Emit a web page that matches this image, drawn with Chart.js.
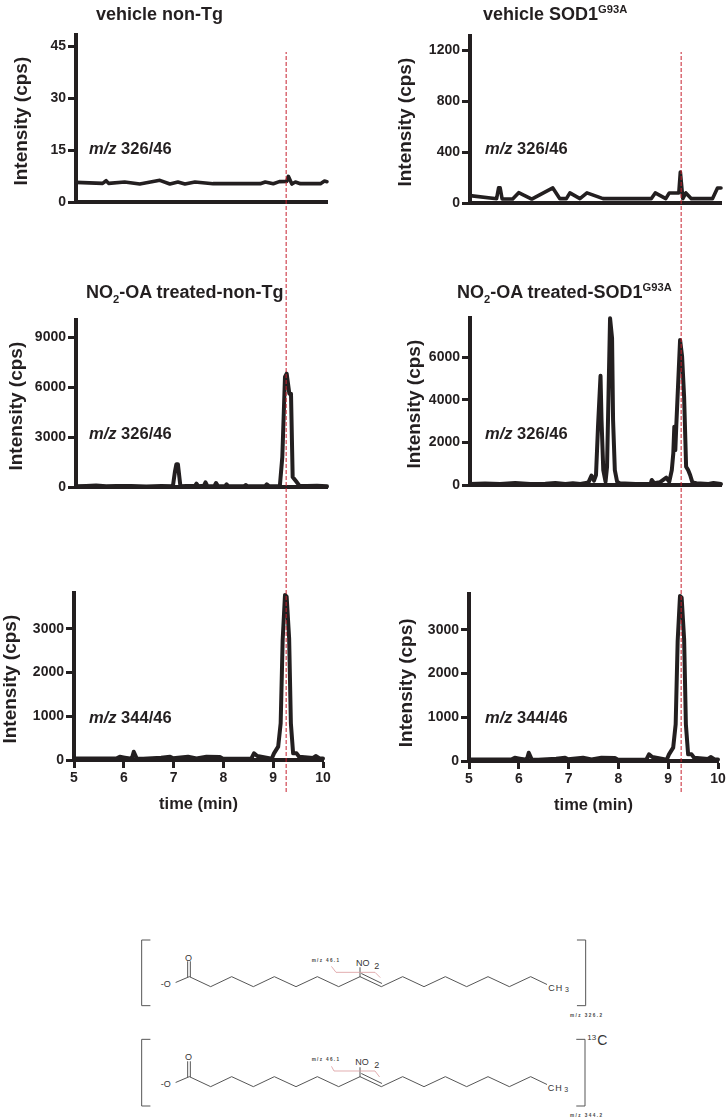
<!DOCTYPE html>
<html><head><meta charset="utf-8">
<script src="https://cdn.jsdelivr.net/npm/chart.js@4"></script>
<style>
html,body{margin:0;padding:0;background:#fff;overflow:hidden}
body{position:relative;width:728px;height:1119px;font-family:"Liberation Sans",Arial,sans-serif;color:#231f20}
canvas{position:absolute}
.t{position:absolute;white-space:nowrap;font-weight:bold;line-height:20px}
.t sub,.t sup{font-size:62%;line-height:0}
#mol{position:absolute;left:130px;top:925px;opacity:.99}
</style></head><body>
<script>
// ---- data ----
const timeTicks = [5,6,7,8,9,10];
const retentionTime = [9.26];

const ticks1 = [0,15,30,45];
const time1 = [5.0,5.53,5.6,5.65,5.97,6.27,6.67,6.87,7.03,7.17,7.37,7.73,8.67,8.77,8.93,9.05,9.2,9.23,9.3,9.37,9.47,9.87,9.95,10.0];
const cps1  = [5.67,5.38,6.15,5.38,5.77,5.19,6.25,5.19,5.77,5.19,5.77,5.29,5.29,5.77,5.29,5.87,5.96,7.4,5.19,5.77,5.29,5.29,6.06,5.87];

const ticks2 = [0,400,800,1200];
const time2 = [5,5.53,5.57,5.6,5.64,5.85,5.97,6.23,6.65,6.79,6.92,6.99,7.19,7.33,7.65,8.61,8.69,8.9,8.97,9.16,9.19,9.24,9.3,9.41,9.83,9.93,10];
const cps2  = [58,34,120,120,31,31,81,31,118,34,34,79,34,79,34,34,79,34,79,79,243,34,79,34,34,118,118];

const ticks3 = [0,3000,6000,9000];
const time3 = [5,5.2,5.4,5.6,5.8,6.1,6.4,6.7,6.93,6.97,7.0,7.03,7.08,7.2,7.37,7.4,7.44,7.55,7.58,7.62,7.76,7.79,7.83,7.97,8.0,8.04,8.35,8.38,8.42,8.77,8.8,8.85,9.06,9.11,9.163,9.197,9.25,9.283,9.316,9.38,9.45,9.6,9.8,10];
const cps3  = [40,60,85,40,55,60,30,55,40,900,1370,1370,40,60,60,200,40,80,280,40,60,240,40,50,160,40,50,120,40,60,160,40,40,1800,6600,6800,5600,5600,600,360,80,60,70,40];

const ticks4 = [0,2000,4000,6000];
const time4 = [5,5.3,5.6,5.9,6.2,6.5,6.7,6.9,7.05,7.2,7.36,7.42,7.47,7.51,7.55,7.6,7.62,7.655,7.7,7.73,7.76,7.79,7.83,7.85,7.885,7.93,7.98,8.3,8.6,8.62,8.67,8.78,8.91,8.97,9.02,9.05,9.07,9.09,9.11,9.185,9.225,9.265,9.305,9.345,9.385,9.43,9.51,9.75,9.85,10];
const cps4  = [50,70,45,90,50,60,90,50,80,50,125,438,203,470,2740,5130,3050,700,156,860,4300,7825,6890,3050,700,156,80,50,60,235,80,125,345,156,700,1490,2740,1640,2820,6810,6030,4150,860,700,470,125,80,50,90,50];

const ticks5 = [0,1000,2000,3000];
const time5 = [5,5.85,5.92,6.02,6.16,6.2,6.26,6.39,6.75,6.93,6.99,7.29,7.46,7.66,7.93,7.99,8.56,8.614,8.68,8.97,9.016,9.1,9.15,9.19,9.237,9.27,9.32,9.355,9.4,9.47,9.52,9.8,9.86,9.93,10];
const cps5  = [35,35,75,55,30,190,35,30,50,76,40,76,35,76,70,30,30,152,91,30,152,305,840,2745,3775,3736,2783,840,152,152,76,45,91,35,35];

const ticks6 = [0,1000,2000,3000];
const time6 = [5,5.85,5.92,6.02,6.16,6.2,6.26,6.39,6.75,6.93,6.99,7.29,7.46,7.66,7.93,7.99,8.56,8.614,8.68,8.97,9.016,9.1,9.15,9.19,9.237,9.27,9.32,9.355,9.4,9.47,9.52,9.8,9.86,9.93,10];
const cps6  = [35,35,75,55,30,190,35,30,50,76,40,76,35,76,70,30,30,152,91,30,152,305,840,2745,3775,3736,2783,840,152,152,76,45,91,35,35];

const yTitle = 'Intensity (cps)';
const xTitle = 'time (min)';

// ---- layout ----
const INK = '#231f20';
const F = '"Liberation Sans", Arial, sans-serif';
const panels = [
 {t:time1,v:cps1,ticks:ticks1,ymax:48.2, ax:76, end:327,top:35, bot:202,gap:55,pad:' ', xl:false,lw:3.6},
 {t:time2,v:cps2,ticks:ticks2,ymax:1310, ax:470,end:721,top:36, bot:203,gap:65,pad:' ', xl:false,lw:3.6},
 {t:time3,v:cps3,ticks:ticks3,ymax:10020,ax:76, end:327,top:320,bot:487,gap:60,pad:' ', xl:false,lw:4},
 {t:time4,v:cps4,ticks:ticks4,ymax:7840, ax:470,end:721,top:318,bot:485,gap:56,pad:' ', xl:false,lw:4},
 {t:time5,v:cps5,ticks:ticks5,ymax:3820, ax:74, end:323,top:593,bot:760,gap:64,pad:' ', xl:true,lw:4},
 {t:time6,v:cps6,ticks:ticks6,ymax:3820, ax:469,end:718,top:594,bot:761,gap:63,pad:'  ',xl:true,lw:4},
];

function addCanvas(l,t,w,h){
  const c=document.createElement('canvas');
  c.width=w;c.height=h;c.style.left=l+'px';c.style.top=t+'px';c.style.width=w+'px';c.style.height=h+'px';
  document.body.appendChild(c);return c;
}

panels.forEach(p=>{
  const padTop=12,padR=p.xl?10:6,yW=p.gap+11,xH=p.xl?54:12;
  const c=addCanvas(p.ax-yW,p.top-padTop,yW+(p.end-p.ax)+padR,(p.bot-p.top)+padTop+xH);
  new Chart(c,{type:'line',
    data:{datasets:[{data:p.t.map((x,i)=>({x,y:p.v[i]})),borderColor:INK,borderWidth:p.lw,pointRadius:0,tension:0,
      borderJoinStyle:'round',borderCapStyle:'round',clip:false}]},
    options:{responsive:false,animation:false,events:[],
      layout:{padding:{top:padTop,right:padR,left:0,bottom:0}},
      plugins:{legend:{display:false},tooltip:{enabled:false},title:{display:false}},
      scales:{
        x:{type:'linear',min:5,max:10,
          afterBuildTicks:s=>{s.ticks=timeTicks.map(value=>({value}))},
          afterFit:s=>{s.height=xH},
          border:{display:true,width:4,color:INK},
          grid:{display:p.xl,drawOnChartArea:false,drawTicks:p.xl,tickLength:8,tickWidth:3,tickColor:INK,color:INK},
          ticks:{display:p.xl,autoSkip:false,maxRotation:0,padding:2,color:INK,font:{family:F,size:14,weight:'bold'},callback:v=>String(v)},
          title:{display:p.xl,text:xTitle,color:INK,padding:0,font:{family:F,size:16.5,weight:'bold'}}},
        y:{type:'linear',min:0,max:p.ymax,
          afterBuildTicks:s=>{s.ticks=p.ticks.map(value=>({value}))},
          afterFit:s=>{s.width=yW},
          border:{display:true,width:4,color:INK},
          grid:{display:true,drawOnChartArea:false,drawTicks:true,tickLength:8,tickWidth:3,tickColor:INK,color:INK},
          ticks:{autoSkip:false,padding:2,color:INK,font:{family:F,size:14,weight:'bold'},callback:v=>String(v)},
          title:{display:true,text:yTitle+p.pad,color:INK,padding:0,font:{family:F,size:19,weight:'bold'}}}
      }}});
});

// retention-time guide through each column, on the same 5-10 min time scale
[[74,249],[469,249]].forEach(([l,w])=>{
  const c=addCanvas(l,52,w,740);
  c.style.pointerEvents='none';
  new Chart(c,{type:'line',
    data:{datasets:[{data:[{x:retentionTime[0],y:0},{x:retentionTime[0],y:1}],borderColor:'#c8202e',borderWidth:1,borderDash:[4,2],pointRadius:0,clip:false}]},
    options:{responsive:false,animation:false,events:[],layout:{padding:0},
      plugins:{legend:{display:false},tooltip:{enabled:false}},
      scales:{x:{type:'linear',min:5,max:10,display:false},y:{type:'linear',min:0,max:1,display:false}}}});
});

// ---- text labels ----
function label(html,l,base,size){
  const d=document.createElement('div');d.className='t';d.innerHTML=html;
  d.style.left=l+'px';d.style.top=(base-15)+'px';d.style.fontSize=size+'px';
  document.body.appendChild(d);
}
label('vehicle non-Tg',96,19,18);
label('vehicle SOD1<sup>G93A</sup>',483,19,18);
label('NO<sub>2</sub>-OA treated-non-Tg',86,297,18);
label('NO<sub>2</sub>-OA treated-SOD1<sup>G93A</sup>',457,297,18);
[[89,153,'326/46'],[485,153,'326/46'],[89,438,'326/46'],[485,438,'326/46'],[89,722,'344/46'],[485,722,'344/46']]
 .forEach(([l,b,s])=>label('<i>m/z</i> '+s,l,b,16.5));

// ---- structures (illustration below the charts) ----
const chainA='138,172 178,155 242,185 305,155 370,185 433,155 498,185 562,155 626,185 690,155 754,185 818,155 882,185 946,155 1010,185 1074,155 1138,185 1202,155 1250,178';
const chainB='138,472 178,455 242,485 305,455 370,485 433,455 498,485 562,455 626,485 690,455 754,485 818,455 882,485 946,455 1010,485 1074,455 1138,485 1202,455 1250,478';
document.body.insertAdjacentHTML('beforeend',`
<svg id="mol" width="480" height="194" viewBox="0 0 1440 582" xmlns="http://www.w3.org/2000/svg" font-family="Liberation Sans, Arial, sans-serif" fill="none" stroke-linecap="round">
<g stroke="#555" stroke-width="3">
<polyline points="60,45 35,45 35,242 60,242"/><polyline points="1342,45 1367,45 1367,242 1342,242"/>
<polyline points="60,343 35,343 35,543 60,543"/><polyline points="1340,343 1365,343 1365,543 1340,543"/>
<polyline points="${chainA}"/><polyline points="${chainB}"/>
<path d="M173,155V110M181,155V110M690,155V128M695,146L755,175"/>
<path d="M173,455V410M181,455V410M690,455V428M695,446L755,475"/>
</g>
<g stroke="#dc9ea0" stroke-width="2.5">
<polyline points="605,125 618,142 735,142 750,157"/><polyline points="605,425 612,438 735,438 748,455"/>
</g>
<g fill="#333" font-size="27">
<text x="92" y="187">-O</text><text x="165" y="107">O</text>
<text x="678" y="124">NO</text><text x="733" y="132">2</text>
<text x="1255" y="197" letter-spacing="3">CH</text><text x="1305" y="202" font-size="21">3</text>
<text x="92" y="487">-O</text><text x="165" y="405">O</text>
<text x="676" y="421">NO</text><text x="733" y="430">2</text>
<text x="1253" y="497" letter-spacing="3">CH</text><text x="1303" y="502" font-size="21">3</text>
<text x="1372" y="345" font-size="24">13</text><text x="1402" y="360" font-size="42">C</text>
</g>
<g fill="#444" font-size="14" font-weight="bold">
<text x="545" y="111" textLength="82">m/z 46.1</text><text x="545" y="408" textLength="82">m/z 46.1</text>
<text x="1320" y="276" textLength="96">m/z 326.2</text><text x="1320" y="577" textLength="96">m/z 344.2</text>
</g>
</svg>`);
</script>
</body></html>
